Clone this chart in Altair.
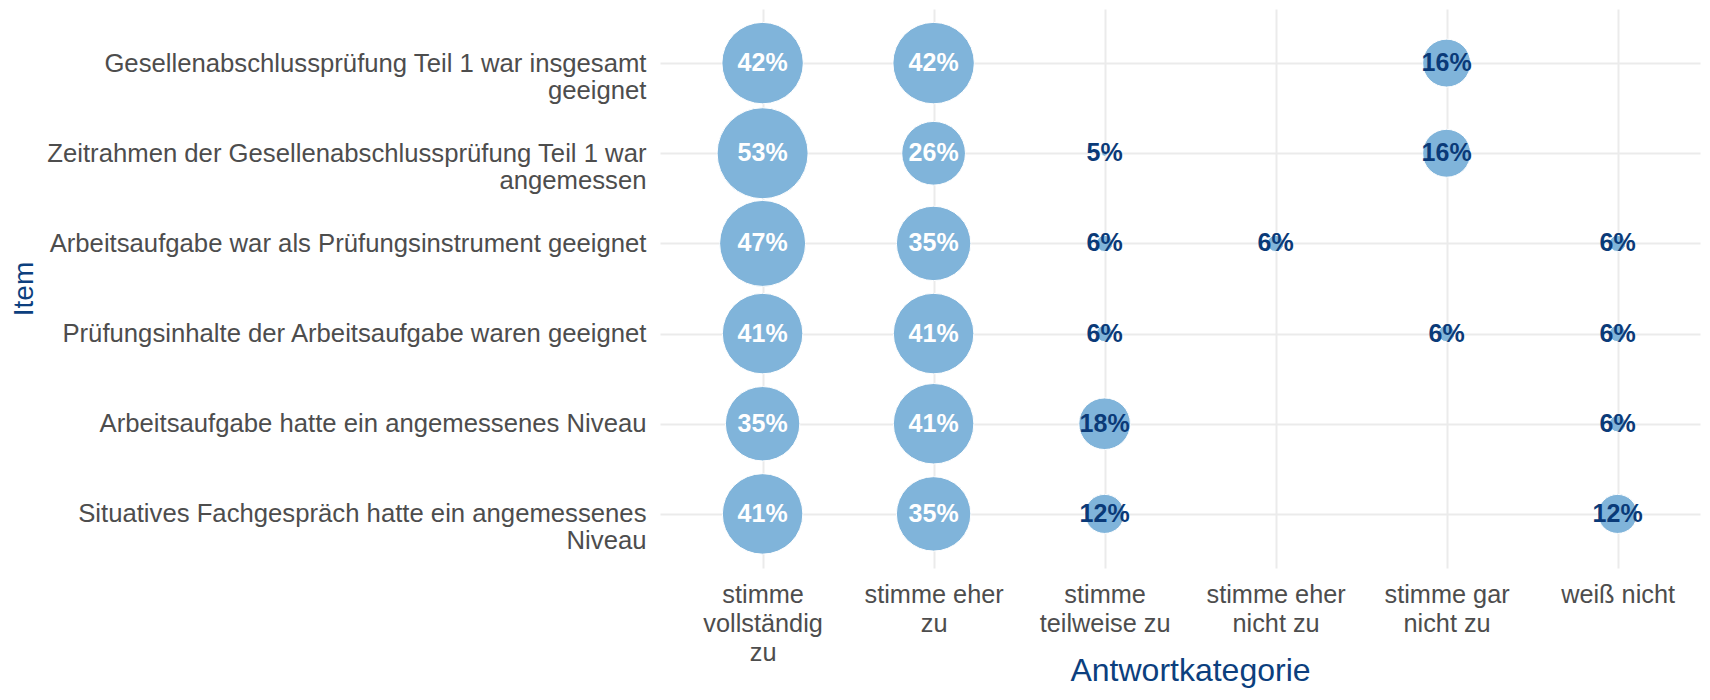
import json
import altair as alt
import pandas as pd

# Items (top to bottom), wrapped as in the reference
items = [
    "Gesellenabschlussprüfung Teil 1 war insgesamt\ngeeignet",
    "Zeitrahmen der Gesellenabschlussprüfung Teil 1 war\nangemessen",
    "Arbeitsaufgabe war als Prüfungsinstrument geeignet",
    "Prüfungsinhalte der Arbeitsaufgabe waren geeignet",
    "Arbeitsaufgabe hatte ein angemessenes Niveau",
    "Situatives Fachgespräch hatte ein angemessenes\nNiveau",
]

# Answer categories (left to right), wrapped as in the reference
categories = [
    "stimme\nvollständig\nzu",
    "stimme eher\nzu",
    "stimme\nteilweise zu",
    "stimme eher\nnicht zu",
    "stimme gar\nnicht zu",
    "weiß nicht",
]

# Percentages per item, one value per category (None = no answer shown)
pct_item1 = [42, 42, None, None, 16, None]
pct_item2 = [53, 26, 5, None, 16, None]
pct_item3 = [47, 35, 6, 6, None, 6]
pct_item4 = [41, 41, 6, None, 6, 6]
pct_item5 = [35, 41, 18, None, None, 6]
pct_item6 = [41, 35, 12, None, None, 12]

all_rows = [pct_item1, pct_item2, pct_item3, pct_item4, pct_item5, pct_item6]

records = []
for item, vals in zip(items, all_rows):
    for ci, (cat, v) in enumerate(zip(categories, vals)):
        if v is not None:
            records.append({"item": item, "cat": cat, "ci": ci, "pct": v,
                            "label": f"{v}%"})
df = pd.DataFrame(records)

vmin, vmax = df["pct"].min(), df["pct"].max()

FONT = "Liberation Sans"
BUBBLE = "#80B4DA"
DARK = "#0A3A78"
TITLE = "#0C3F7E"
GRID = "#EBEBEB"

plot_w, plot_h = 1040, 559

x_label_expr = "split(" + json.dumps(categories, ensure_ascii=False) + "[datum.value], '\\n')"

x_enc = alt.X(
    "ci:Q",
    scale=alt.Scale(domain=[-0.6, -0.6 + plot_w / 171.0], nice=False, zero=False),
    axis=alt.Axis(
        title="Antwortkategorie",
        values=list(range(len(categories))),
        labelExpr=x_label_expr,
        labelFont=FONT, labelFontSize=25.3, labelColor="#4D4D4D",
        labelLineHeight=29, labelPadding=14, labelOverlap=False,
        labelFlush=False, labelAlign="center", labelBaseline="top",
        labelLimit=1000,
        ticks=False, tickSize=0, domain=False,
        grid=True, gridColor=GRID, gridWidth=2,
        titleFont=FONT, titleFontSize=32, titleFontWeight="normal",
        titleColor=TITLE, titleX=530, titleY=112,
        titleBaseline="alphabetic", titleAlign="center",
    ),
)

y_enc = alt.Y(
    "item:N",
    sort=items,
    scale=alt.Scale(type="point", padding=0.6),
    axis=alt.Axis(
        title="Item",
        labelExpr="split(datum.label, '\\n')",
        labelFont=FONT, labelFontSize=25.7, labelColor="#4D4D4D",
        labelLineHeight=27, labelPadding=14, labelLimit=1000,
        ticks=False, tickSize=0, domain=False,
        grid=True, gridColor=GRID, gridWidth=2,
        titleFont=FONT, titleFontSize=28, titleFontWeight="normal",
        titleColor=TITLE, titleAngle=270, titleX=-628, titleY=plot_h / 2,
        titleBaseline="alphabetic", titleAlign="center",
    ),
)

base = alt.Chart(df).encode(x=x_enc, y=y_enc)

bubbles = base.mark_circle(opacity=1, color=BUBBLE, stroke="white", strokeWidth=1).encode(
    size=alt.Size(
        "pct:Q",
        scale=alt.Scale(type="pow", exponent=0.8, domain=[vmin, vmax], range=[36, 8281]),
        legend=None,
    )
)

labels = base.mark_text(font=FONT, fontSize=25, fontWeight="bold", baseline="middle",
                        align="center").encode(
    text="label:N",
    color=alt.condition(alt.datum.pct >= 20, alt.value("white"), alt.value(DARK)),
)

chart = (
    alt.layer(bubbles, labels)
    .properties(
        width=plot_w,
        height=plot_h,
        autosize=alt.AutoSizeParams(type="none"),
        padding={"left": 652, "top": 1, "right": 2, "bottom": 120},
        background="white",
    )
    .configure_view(stroke=None)
)

chart.save("out.html", embed_options={"renderer": "svg", "actions": False})
